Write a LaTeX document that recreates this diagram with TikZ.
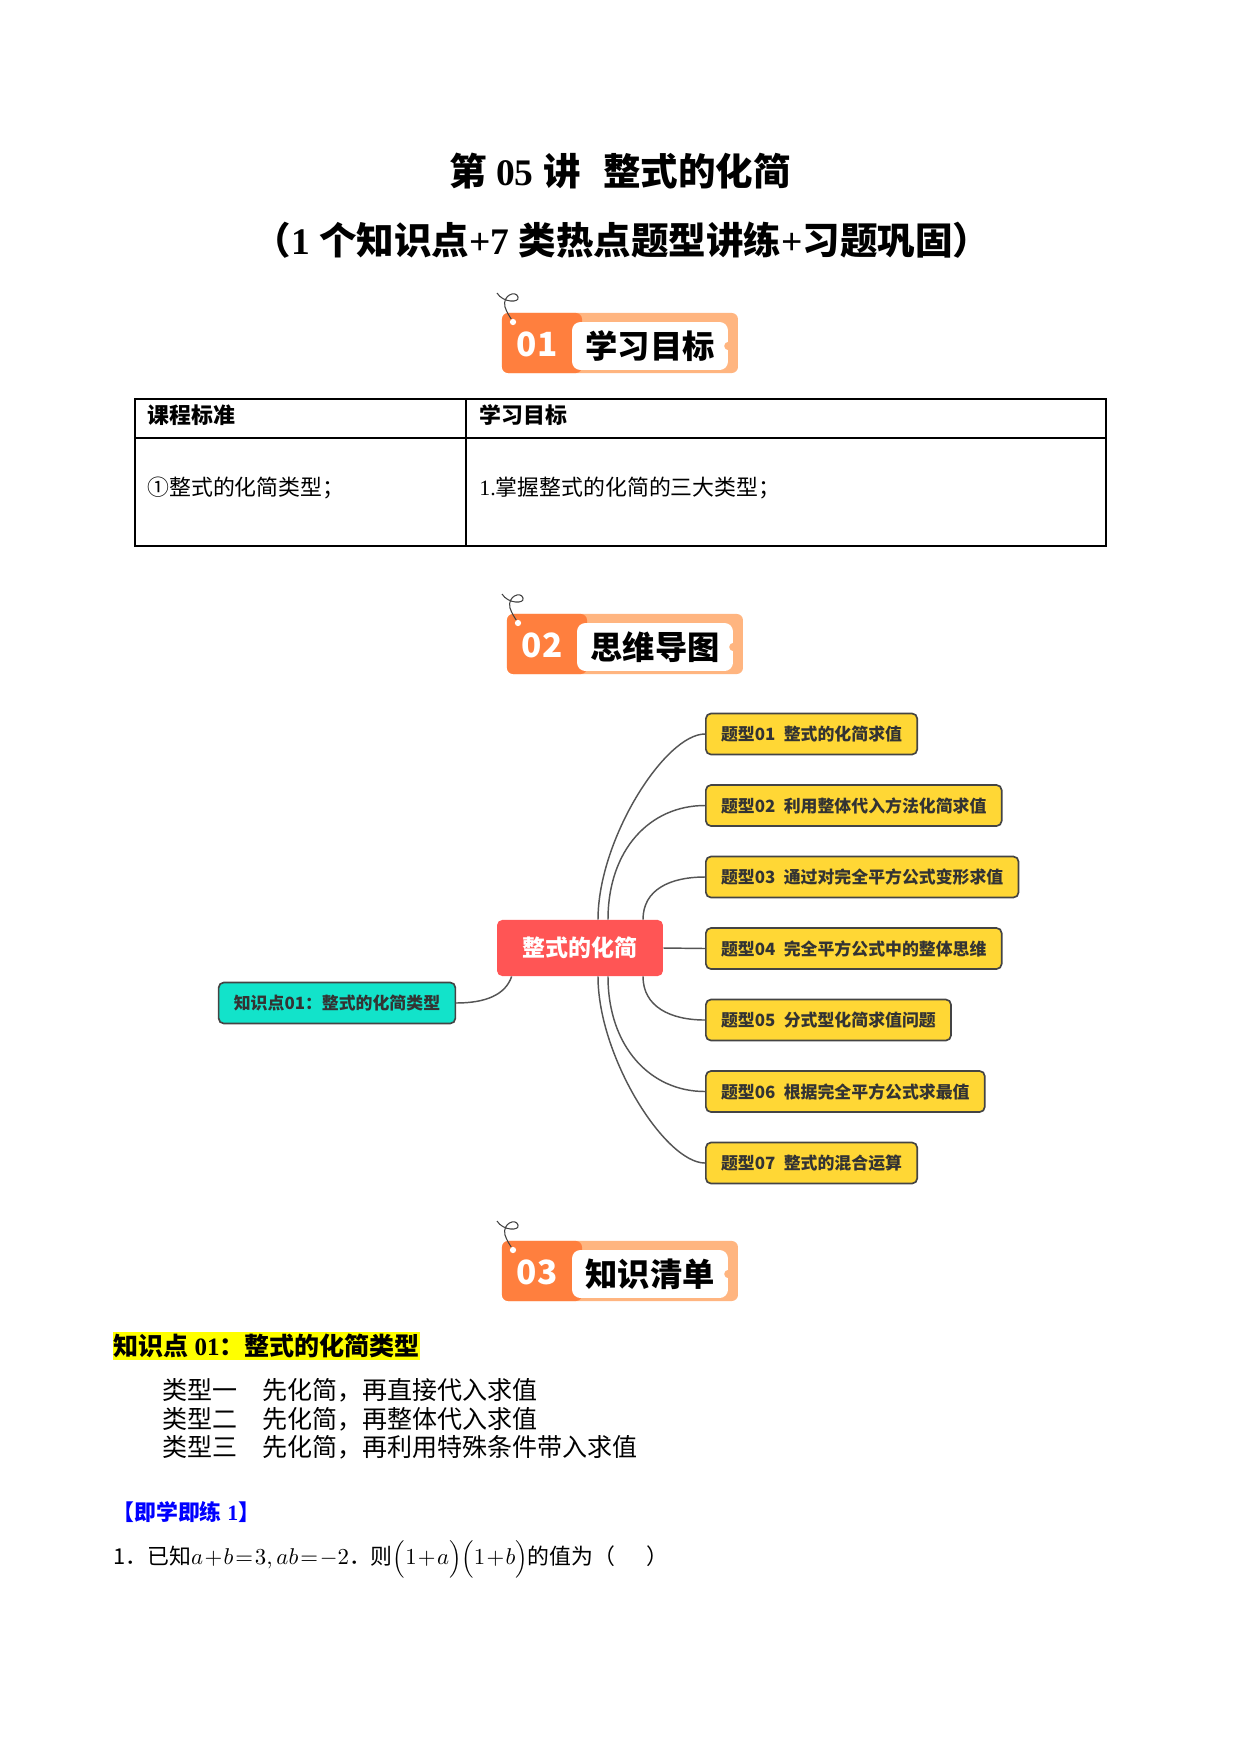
\documentclass[tikz,border=0pt]{standalone}
\usepackage{fontspec}
\setmainfont{Liberation Serif}
\newfontfamily\hei{Noto Sans CJK SC}
\newcommand{\zh}[1]{{\hei #1}}
\usetikzlibrary{positioning,calc}

\definecolor{tabOrange}{HTML}{FF7F3E}
\definecolor{tabLight}{HTML}{FFB580}
\definecolor{mapRed}{HTML}{FF5555}
\definecolor{mapTeal}{HTML}{12E3CA}
\definecolor{mapYellow}{HTML}{FFD735}
\definecolor{mapLine}{HTML}{555555}
\definecolor{mapEdge}{HTML}{444444}
\definecolor{hiYellow}{HTML}{FFFF00}
\definecolor{drillBlue}{HTML}{0000FF}

\tikzset{tabframe/.style={rectangle,rounded corners=3pt,fill=tabLight,minimum width=113.2pt,minimum height=28.8pt,inner sep=0pt}}
\tikzset{tabnum/.style={rectangle,rounded corners=3pt,fill=tabOrange,minimum width=38.4pt,minimum height=28.8pt,inner sep=0pt}}
\tikzset{tabbox/.style={rectangle,rounded corners=4pt,fill=white,minimum width=74.8pt,minimum height=23pt,inner sep=0pt,font=\hei\bfseries\fontsize{15.5}{18}\selectfont}}
\tikzset{tabdigit/.style={inner sep=0pt,text=white,font=\hei\bfseries\fontsize{16}{18}\selectfont}}
\tikzset{tabhole/.style={circle,fill=white,minimum size=3pt,inner sep=0pt}}
\tikzset{tabcut/.style={circle,fill=tabLight,minimum size=4pt,inner sep=0pt}}
\tikzset{tabstring/.style={draw=black!75,line width=0.5pt}}
\tikzset{pics/tabbanner/.style 2 args={code={
	\node (frame) [tabframe] at (0,0) {};
	\node (num) [tabnum] at (-78,0) {};
	\node (box) [tabbox] at (30,3) {#2};
	\node (digit) [tabdigit] at (-83,1) {#1};
	\node (cut) [tabcut] at (box.east) {};
	\node (hole) [tabhole] at (-107,-21) {};
	\draw [tabstring] (-123,-50) .. controls (-117,-40) and (-100,-40) .. (-102,-46) .. controls (-104,-53) and (-118,-48) .. (-115,-36) .. controls (-113,-30) and (-110,-26) .. (hole);
}}}

\tikzset{tablerule/.style={draw=black,line width=0.6pt}}
\tikzset{headtext/.style={inner sep=0pt,anchor=west,font=\hei\bfseries\fontsize{10.5}{12}\selectfont}}
\tikzset{celltext/.style={inner sep=0pt,anchor=west,font=\hei\fontsize{10.5}{12}\selectfont}}
\tikzset{corebox/.style={rectangle,rounded corners=2.5pt,fill=mapRed,text=white,minimum width=79.6pt,minimum height=26.9pt,font=\hei\bfseries\fontsize{11}{13}\selectfont}}
\tikzset{knowbox/.style={rectangle,rounded corners=2.5pt,draw=mapEdge,line width=0.8pt,fill=mapTeal,text=black!80,minimum height=19.7pt,inner xsep=7.3pt,inner ysep=0pt,font=\hei\bfseries\fontsize{8.1}{10}\selectfont}}
\tikzset{topicbox/.style={knowbox,fill=mapYellow}}
\tikzset{branch/.style={draw=mapLine,line width=0.7pt}}
\tikzset{titletext/.style={inner sep=0pt,font=\bfseries\fontsize{18}{22}\selectfont}}
\tikzset{kphead/.style={inner sep=0pt,anchor=west,fill=hiYellow,minimum height=13.4pt,font=\bfseries\fontsize{12}{14}\selectfont}}
\tikzset{waytext/.style={inner sep=0pt,anchor=west,font=\hei\fontsize{12}{14}\selectfont}}
\tikzset{drillhead/.style={inner sep=0pt,anchor=west,text=drillBlue,font=\bfseries\fontsize{10.5}{12}\selectfont}}
\tikzset{qtext/.style={inner sep=0pt,anchor=west,font=\hei\fontsize{10.5}{12}\selectfont}}

\begin{document}
\begin{tikzpicture}[x=0.4797pt,y=-0.4797pt]
\path [fill=white,use as bounding box] (0,0) rectangle (1241,1754);
% title
\node (title) [titletext] at (620,171) {\zh{第} 05 \zh{讲}\hspace{0.6em}\zh{整式的化简}};
\node (subtitle) [titletext] at (622,240) {\zh{（}1 \zh{个知识点}+7 \zh{类热点题型讲练}+\zh{习题巩固）}};
% 01 goals table
\pic (tab1) at (620,343) {tabbanner={01}{学习目标}};
\draw [tablerule] (135,399) rectangle (1106,546);
\draw [tablerule] (135,438) -- (1106,438);
\draw [tablerule] (466,399) -- (466,546);
\node (head1) [headtext] at (147,415) {课程标准};
\node (head2) [headtext] at (479,415) {学习目标};
\node (cell1) [celltext] at (147,488) {①整式的化简类型；};
\node (cell2) [celltext] at (479,488) {\textrm{1.}掌握整式的化简的三大类型；};
% 02 mind map
\pic (tab2) at (625,644) {tabbanner={02}{思维导图}};
\node (core) [corebox] at (580,948) {整式的化简};
\node (know) [knowbox] at (337,1003) {知识点01：整式的化简类型};
\node (type1) [topicbox, anchor=west] at (705,734) {题型01\enspace 整式的化简求值};
\node (type2) [topicbox, below=13.8pt of type1.south west, anchor=north west] {题型02\enspace 利用整体代入方法化简求值};
\node (type3) [topicbox, below=13.8pt of type2.south west, anchor=north west] {题型03\enspace 通过对完全平方公式变形求值};
\node (type4) [topicbox, below=13.8pt of type3.south west, anchor=north west] {题型04\enspace 完全平方公式中的整体思维};
\node (type5) [topicbox, below=13.8pt of type4.south west, anchor=north west] {题型05\enspace 分式型化简求值问题};
\node (type6) [topicbox, below=13.8pt of type5.south west, anchor=north west] {题型06\enspace 根据完全平方公式求最值};
\node (type7) [topicbox, below=13.8pt of type6.south west, anchor=north west] {题型07\enspace 整式的混合运算};
\draw [branch] ($(core.north)+(18,0)$) .. controls +(0,-80) and +(-40,0) .. (type1.west);
\draw [branch] ($(core.north)+(28,0)$) .. controls +(0,-70) and +(-55,0) .. (type2.west);
\draw [branch] ($(core.north)+(63,0)$) .. controls +(0,-30) and +(-35,0) .. (type3.west);
\draw [branch] (core.east) -- (type4.west);
\draw [branch] ($(core.south)+(63,0)$) .. controls +(0,30) and +(-35,0) .. (type5.west);
\draw [branch] ($(core.south)+(28,0)$) .. controls +(0,70) and +(-55,0) .. (type6.west);
\draw [branch] ($(core.south)+(18,0)$) .. controls +(0,80) and +(-40,0) .. (type7.west);
\draw [branch] ($(core.south west)+(15,0)$) .. controls +(-6,18) and +(30,0) .. (know.east);
% 03 knowledge list
\pic (tab3) at (620,1271) {tabbanner={03}{知识清单}};
\node (kp1) [kphead] at (113,1346) {\zh{知识点} 01\zh{：整式的化简类型}};
\node (way1) [waytext] at (162,1390) {类型一\quad 先化简，再直接代入求值};
\node (way2) [waytext] at (162,1419) {类型二\quad 先化简，再整体代入求值};
\node (way3) [waytext] at (162,1447) {类型三\quad 先化简，再利用特殊条件带入求值};
\node (drill1) [drillhead] at (112,1512) {\zh{【即学即练} 1\zh{】}};
\node (q1) [qtext] at (113,1559) {\medmuskip=1mu\thickmuskip=1.5mu\relax 1．已知$a+b=3,ab=-2$．则$\Bigl(1+a\Bigr)\Bigl(1+b\Bigr)$的值为（\hspace{1.4em}）};
\end{tikzpicture}
\end{document}
